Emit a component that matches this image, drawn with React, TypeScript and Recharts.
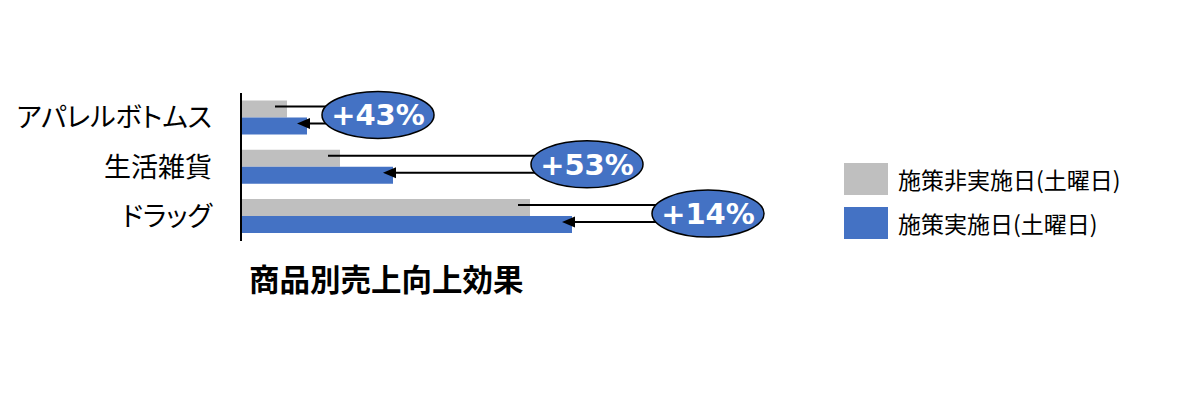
import React from 'react';
import { BarChart, Bar, XAxis, YAxis, Legend, LabelList } from 'recharts';

const categories = ['アパレルボトムス', '生活雑貨', 'ドラッグ'];
const withoutCampaign = [46, 99, 289];
const withCampaign = [66, 152, 331];
const liftLabels = ['+43%', '+53%', '+14%'];
const seriesNames = ['施策非実施日(土曜日)', '施策実施日(土曜日)'];

// where each callout bubble starts, in x-axis value units
const calloutAt = [81, 290, 411];

const data = categories.map((name, i) => ({
  name,
  base: withoutCampaign[i],
  promo: withCampaign[i],
}));

const GRAY = '#BFBFBF';
const BLUE = '#4472C4';
const JP = '"Noto Sans CJK JP", "Noto Sans", sans-serif';

const CategoryTick = ({ x, y, payload }: any) => (
  <text
    x={x}
    y={y}
    dy="0.36em"
    textAnchor="end"
    fill="#000"
    fontSize={27}
    fontFamily={JP}
    style={{ fontFeatureSettings: '"palt"' }}
  >
    {payload.value}
  </text>
);

const Callout = (props: any) => {
  const vb = props.viewBox ?? props;
  const { x, y, width } = vb;
  const i = props.index;
  if (x == null || i == null) return null;
  const pxPerUnit = width / withCampaign[i];
  const grayEnd = x + withoutCampaign[i] * pxPerUnit;
  const blueEnd = x + width;
  const rx = 56;
  const ry = 23.5;
  const cx = x + calloutAt[i] * pxPerUnit + rx;
  const cy = y - 2.5;
  const topY = cy - 8.5;
  const botY = cy + 8.5;
  const tip = blueEnd - 10;
  return (
    <g>
      <line x1={grayEnd - 12} y1={topY} x2={cx} y2={topY} stroke="#000" strokeWidth={2} />
      <line x1={tip + 10} y1={botY} x2={cx} y2={botY} stroke="#000" strokeWidth={2} />
      <polygon points={`${tip},${botY} ${tip + 13},${botY - 5.5} ${tip + 13},${botY + 5.5}`} fill="#000" />
      <ellipse cx={cx} cy={cy} rx={rx} ry={ry} fill={BLUE} stroke="#000" strokeWidth={1.5} />
      <text
        x={cx}
        y={cy}
        dy="0.36em"
        textAnchor="middle"
        fill="#fff"
        fontSize={29}
        fontWeight="bold"
        fontFamily='"DejaVu Sans", sans-serif'
      >
        {liftLabels[i]}
      </text>
    </g>
  );
};

const LegendBox = ({ payload }: any) => (
  <div style={{ fontFamily: JP }}>
    {(payload ?? []).map((entry: any) => (
      <div key={entry.value} style={{ display: 'flex', alignItems: 'center', height: 32, marginBottom: 12 }}>
        <span style={{ width: 44, height: 32, background: entry.color, display: 'inline-block' }} />
        <span style={{ marginLeft: 10, fontSize: 23, color: '#000', lineHeight: '32px' }}>{entry.value}</span>
      </div>
    ))}
  </div>
);

export default function App() {
  return (
    <div style={{ position: 'relative', width: 1184, height: 384 }}>
      <BarChart
        width={1184}
        height={384}
        data={data}
        layout="vertical"
        margin={{ top: 85, right: 351, bottom: 151, left: 0 }}
        barCategoryGap="15%"
        barGap={0}
      >
        <XAxis type="number" domain={[0, 600]} hide />
        <YAxis
          type="category"
          dataKey="name"
          width={233}
          interval={0}
          axisLine={{ stroke: '#000', strokeWidth: 2 }}
          tickLine={false}
          tickSize={0}
          tickMargin={29}
          tick={<CategoryTick />}
        />
        <Legend
          layout="vertical"
          align="center"
          verticalAlign="middle"
          itemSorter="dataKey"
          content={<LegendBox />}
          wrapperStyle={{ left: 836, top: 155, width: 320, bottom: 'auto' }}
        />
        <Bar dataKey="base" name={seriesNames[0]} fill={GRAY} isAnimationActive={false} />
        <Bar dataKey="promo" name={seriesNames[1]} fill={BLUE} isAnimationActive={false}>
          <LabelList dataKey="promo" content={<Callout />} />
        </Bar>
      </BarChart>
      <div
        style={{
          position: 'absolute',
          left: 241,
          top: 255,
          fontFamily: JP,
          fontWeight: 'bold',
          fontSize: 30.5,
          lineHeight: '30px',
          color: '#000',
        }}
      >
        商品別売上向上効果
      </div>
    </div>
  );
}
